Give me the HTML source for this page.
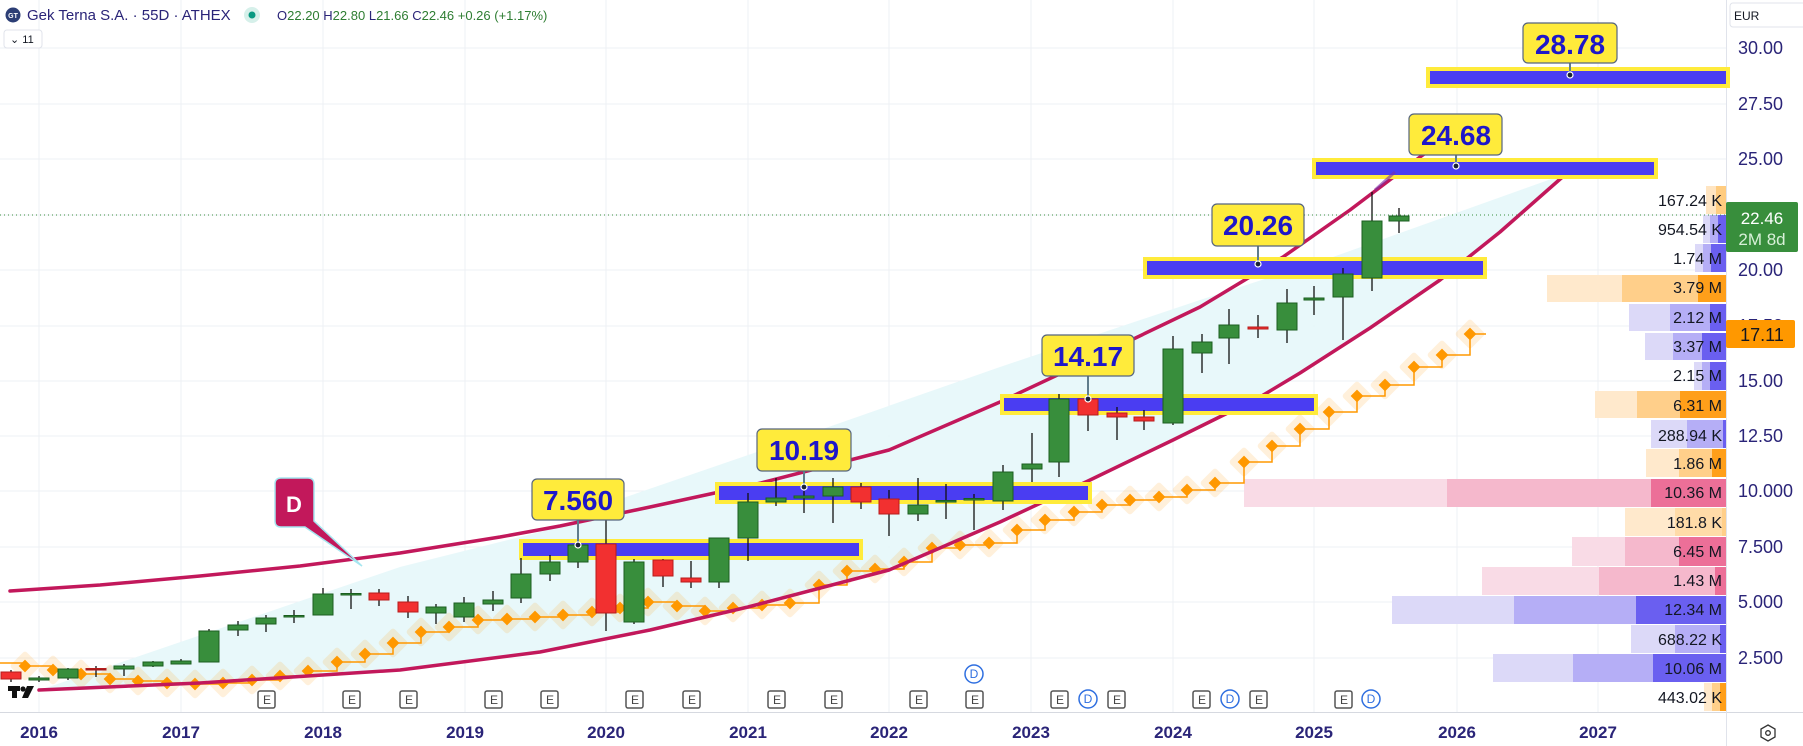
<!DOCTYPE html>
<html><head><meta charset="utf-8"><style>
html,body{margin:0;padding:0;background:#fff;}
svg{display:block;font-family:"Liberation Sans",sans-serif;}
</style></head><body>
<svg width="1803" height="746" viewBox="0 0 1803 746" xmlns="http://www.w3.org/2000/svg">
<rect width="1803" height="746" fill="#fff"/>
<!-- grid -->
<g stroke="#eef0f4" stroke-width="1">
<line x1="0" y1="48" x2="1726" y2="48"/><line x1="0" y1="104" x2="1726" y2="104"/><line x1="0" y1="159" x2="1726" y2="159"/><line x1="0" y1="215" x2="1726" y2="215"/><line x1="0" y1="270" x2="1726" y2="270"/><line x1="0" y1="326" x2="1726" y2="326"/><line x1="0" y1="381" x2="1726" y2="381"/><line x1="0" y1="436" x2="1726" y2="436"/><line x1="0" y1="491" x2="1726" y2="491"/><line x1="0" y1="547" x2="1726" y2="547"/><line x1="0" y1="602" x2="1726" y2="602"/><line x1="0" y1="658" x2="1726" y2="658"/>
<line x1="39" y1="0" x2="39" y2="712"/><line x1="181" y1="0" x2="181" y2="712"/><line x1="323" y1="0" x2="323" y2="712"/><line x1="465" y1="0" x2="465" y2="712"/><line x1="606" y1="0" x2="606" y2="712"/><line x1="748" y1="0" x2="748" y2="712"/><line x1="889" y1="0" x2="889" y2="712"/><line x1="1031" y1="0" x2="1031" y2="712"/><line x1="1173" y1="0" x2="1173" y2="712"/><line x1="1314" y1="0" x2="1314" y2="712"/><line x1="1457" y1="0" x2="1457" y2="712"/><line x1="1598" y1="0" x2="1598" y2="712"/>
</g>
<line x1="0" y1="712.5" x2="1803" y2="712.5" stroke="#d6d9e0"/>
<line x1="1726.5" y1="0" x2="1726.5" y2="746" stroke="#e0e3eb"/>

<!-- volume profile -->
<g>
<rect x="1706" y="186" width="20" height="28" fill="#ffe5c2"/><rect x="1716" y="186" width="10" height="28" fill="#ffcc80"/>
<rect x="1703" y="215" width="23" height="28" fill="#dcd9f8"/><rect x="1710" y="215" width="16" height="28" fill="#b5aef6"/><rect x="1718" y="215" width="8" height="28" fill="#6a5ff0"/>
<rect x="1695" y="244" width="31" height="28" fill="#dcd9f8"/><rect x="1703" y="244" width="23" height="28" fill="#b5aef6"/><rect x="1711" y="244" width="15" height="28" fill="#6a5ff0"/>
<rect x="1547" y="275" width="179" height="27" fill="#ffe9cc"/><rect x="1622" y="275" width="104" height="27" fill="#ffcf8a"/><rect x="1698" y="275" width="28" height="27" fill="#ff9f1a"/>
<rect x="1629" y="304" width="97" height="27" fill="#dcd9f8"/><rect x="1670" y="304" width="56" height="27" fill="#b5aef6"/><rect x="1710" y="304" width="16" height="27" fill="#6a5ff0"/>
<rect x="1645" y="333" width="81" height="27" fill="#dcd9f8"/><rect x="1673" y="333" width="53" height="27" fill="#b5aef6"/><rect x="1702" y="333" width="24" height="27" fill="#6a5ff0"/>
<rect x="1694" y="362" width="32" height="28" fill="#dcd9f8"/><rect x="1702" y="362" width="24" height="28" fill="#b5aef6"/><rect x="1710" y="362" width="16" height="28" fill="#6a5ff0"/>
<rect x="1595" y="391" width="131" height="27" fill="#ffe9cc"/><rect x="1637" y="391" width="89" height="27" fill="#ffcf8a"/><rect x="1680" y="391" width="46" height="27" fill="#ff9f1a"/>
<rect x="1651" y="420" width="75" height="28" fill="#dcd9f8"/><rect x="1687" y="420" width="39" height="28" fill="#b5aef6"/><rect x="1723" y="420" width="3" height="28" fill="#6a5ff0"/>
<rect x="1646" y="449" width="80" height="28" fill="#ffe9cc"/><rect x="1679" y="449" width="47" height="28" fill="#ffcf8a"/><rect x="1712" y="449" width="14" height="28" fill="#ff9f1a"/>
<rect x="1244" y="479" width="482" height="28" fill="#f9dbe6"/><rect x="1447" y="479" width="279" height="28" fill="#f5b8cc"/><rect x="1651" y="479" width="75" height="28" fill="#ec6f98"/>
<rect x="1625" y="508" width="101" height="28" fill="#ffe9cc"/><rect x="1675" y="508" width="51" height="28" fill="#ffdba8"/><rect x="1722" y="508" width="4" height="28" fill="#ffcf8a"/>
<rect x="1572" y="537" width="154" height="29" fill="#f9dbe6"/><rect x="1625" y="537" width="101" height="29" fill="#f5b8cc"/><rect x="1679" y="537" width="47" height="29" fill="#ec6f98"/>
<rect x="1482" y="567" width="244" height="28" fill="#f9dbe6"/><rect x="1599" y="567" width="127" height="28" fill="#f5b8cc"/><rect x="1715" y="567" width="11" height="28" fill="#ec6f98"/>
<rect x="1392" y="596" width="334" height="28" fill="#dcd9f8"/><rect x="1514" y="596" width="212" height="28" fill="#b5aef6"/><rect x="1636" y="596" width="90" height="28" fill="#6a5ff0"/>
<rect x="1631" y="625" width="95" height="28" fill="#dcd9f8"/><rect x="1675" y="625" width="51" height="28" fill="#b5aef6"/><rect x="1720" y="625" width="6" height="28" fill="#6a5ff0"/>
<rect x="1493" y="654" width="233" height="28" fill="#dcd9f8"/><rect x="1573" y="654" width="153" height="28" fill="#b5aef6"/><rect x="1653" y="654" width="73" height="28" fill="#6a5ff0"/>
<rect x="1704" y="683" width="22" height="28" fill="#ffe9cc"/><rect x="1712" y="683" width="14" height="28" fill="#ffcf8a"/><rect x="1720" y="683" width="6" height="28" fill="#ff9f1a"/>
</g>

<!-- cloud -->
<polygon fill="#e6f7f9" opacity="0.9" points="40,690 400,567 560,527 626,497 754,453 1000,367 1200,300 1333,257 1568,173 1500,232 1440,280 1300,372 1260,397 1173,440 1088,480 1000,520 889,570 748,607 650,630 540,652 400,670 200,683 39,690"/>

<!-- orange halos + step line -->
<g fill="#ff9800" fill-opacity="0.13">
<g id="h">
</g>
</g>
<path fill="none" stroke="#ff9800" stroke-width="1.5" d="M-3,663 H25 V666 H53 V670 H81 V674 H110 V679 H138 V681 H167 V683 H195 V684 H223 V683 H252 V680 H280 V676 H308 V671 H337 V662 H365 V654 H393 V643 H421 V632 H449 V627 H478 V620 H507 V619 H535 V617 H563 V615 H592 V612 H620 V608 H648 V602 H677 V606 H705 V611 H733 V608 H762 V605 H790 V603 H819 V585 H847 V571 H875 V569 H904 V562 H932 V548 H960 V545 H989 V543 H1017 V530 H1045 V520 H1074 V512 H1102 V505 H1130 V500 H1159 V497 H1187 V490 H1215 V483 H1244 V462 H1272 V446 H1300 V429 H1329 V412 H1357 V396 H1385 V385 H1414 V367 H1442 V355 H1470 V334 H1486"/>
<g fill="#ff9800">
<g fill-opacity="0.14">
<rect x="-11" y="-11" width="22" height="22" rx="3" transform="translate(25,666) rotate(45)"/><rect x="-11" y="-11" width="22" height="22" rx="3" transform="translate(53,670) rotate(45)"/><rect x="-11" y="-11" width="22" height="22" rx="3" transform="translate(81,674) rotate(45)"/><rect x="-11" y="-11" width="22" height="22" rx="3" transform="translate(110,679) rotate(45)"/><rect x="-11" y="-11" width="22" height="22" rx="3" transform="translate(138,681) rotate(45)"/><rect x="-11" y="-11" width="22" height="22" rx="3" transform="translate(167,683) rotate(45)"/><rect x="-11" y="-11" width="22" height="22" rx="3" transform="translate(195,684) rotate(45)"/><rect x="-11" y="-11" width="22" height="22" rx="3" transform="translate(223,683) rotate(45)"/><rect x="-11" y="-11" width="22" height="22" rx="3" transform="translate(252,680) rotate(45)"/><rect x="-11" y="-11" width="22" height="22" rx="3" transform="translate(280,676) rotate(45)"/><rect x="-11" y="-11" width="22" height="22" rx="3" transform="translate(308,671) rotate(45)"/><rect x="-11" y="-11" width="22" height="22" rx="3" transform="translate(337,662) rotate(45)"/><rect x="-11" y="-11" width="22" height="22" rx="3" transform="translate(365,654) rotate(45)"/><rect x="-11" y="-11" width="22" height="22" rx="3" transform="translate(393,643) rotate(45)"/><rect x="-11" y="-11" width="22" height="22" rx="3" transform="translate(421,632) rotate(45)"/><rect x="-11" y="-11" width="22" height="22" rx="3" transform="translate(449,627) rotate(45)"/><rect x="-11" y="-11" width="22" height="22" rx="3" transform="translate(478,620) rotate(45)"/><rect x="-11" y="-11" width="22" height="22" rx="3" transform="translate(507,619) rotate(45)"/><rect x="-11" y="-11" width="22" height="22" rx="3" transform="translate(535,617) rotate(45)"/><rect x="-11" y="-11" width="22" height="22" rx="3" transform="translate(563,615) rotate(45)"/><rect x="-11" y="-11" width="22" height="22" rx="3" transform="translate(592,612) rotate(45)"/><rect x="-11" y="-11" width="22" height="22" rx="3" transform="translate(620,608) rotate(45)"/><rect x="-11" y="-11" width="22" height="22" rx="3" transform="translate(648,602) rotate(45)"/><rect x="-11" y="-11" width="22" height="22" rx="3" transform="translate(677,606) rotate(45)"/><rect x="-11" y="-11" width="22" height="22" rx="3" transform="translate(705,611) rotate(45)"/><rect x="-11" y="-11" width="22" height="22" rx="3" transform="translate(733,608) rotate(45)"/><rect x="-11" y="-11" width="22" height="22" rx="3" transform="translate(762,605) rotate(45)"/><rect x="-11" y="-11" width="22" height="22" rx="3" transform="translate(790,603) rotate(45)"/><rect x="-11" y="-11" width="22" height="22" rx="3" transform="translate(819,585) rotate(45)"/><rect x="-11" y="-11" width="22" height="22" rx="3" transform="translate(847,571) rotate(45)"/><rect x="-11" y="-11" width="22" height="22" rx="3" transform="translate(875,569) rotate(45)"/><rect x="-11" y="-11" width="22" height="22" rx="3" transform="translate(904,562) rotate(45)"/><rect x="-11" y="-11" width="22" height="22" rx="3" transform="translate(932,548) rotate(45)"/><rect x="-11" y="-11" width="22" height="22" rx="3" transform="translate(960,545) rotate(45)"/><rect x="-11" y="-11" width="22" height="22" rx="3" transform="translate(989,543) rotate(45)"/><rect x="-11" y="-11" width="22" height="22" rx="3" transform="translate(1017,530) rotate(45)"/><rect x="-11" y="-11" width="22" height="22" rx="3" transform="translate(1045,520) rotate(45)"/><rect x="-11" y="-11" width="22" height="22" rx="3" transform="translate(1074,512) rotate(45)"/><rect x="-11" y="-11" width="22" height="22" rx="3" transform="translate(1102,505) rotate(45)"/><rect x="-11" y="-11" width="22" height="22" rx="3" transform="translate(1130,500) rotate(45)"/><rect x="-11" y="-11" width="22" height="22" rx="3" transform="translate(1159,497) rotate(45)"/><rect x="-11" y="-11" width="22" height="22" rx="3" transform="translate(1187,490) rotate(45)"/><rect x="-11" y="-11" width="22" height="22" rx="3" transform="translate(1215,483) rotate(45)"/><rect x="-11" y="-11" width="22" height="22" rx="3" transform="translate(1244,462) rotate(45)"/><rect x="-11" y="-11" width="22" height="22" rx="3" transform="translate(1272,446) rotate(45)"/><rect x="-11" y="-11" width="22" height="22" rx="3" transform="translate(1300,429) rotate(45)"/><rect x="-11" y="-11" width="22" height="22" rx="3" transform="translate(1329,412) rotate(45)"/><rect x="-11" y="-11" width="22" height="22" rx="3" transform="translate(1357,396) rotate(45)"/><rect x="-11" y="-11" width="22" height="22" rx="3" transform="translate(1385,385) rotate(45)"/><rect x="-11" y="-11" width="22" height="22" rx="3" transform="translate(1414,367) rotate(45)"/><rect x="-11" y="-11" width="22" height="22" rx="3" transform="translate(1442,355) rotate(45)"/><rect x="-11" y="-11" width="22" height="22" rx="3" transform="translate(1470,334) rotate(45)"/>
</g>
<rect x="-4.5" y="-4.5" width="9" height="9" transform="translate(25,666) rotate(45)"/><rect x="-4.5" y="-4.5" width="9" height="9" transform="translate(53,670) rotate(45)"/><rect x="-4.5" y="-4.5" width="9" height="9" transform="translate(81,674) rotate(45)"/><rect x="-4.5" y="-4.5" width="9" height="9" transform="translate(110,679) rotate(45)"/><rect x="-4.5" y="-4.5" width="9" height="9" transform="translate(138,681) rotate(45)"/><rect x="-4.5" y="-4.5" width="9" height="9" transform="translate(167,683) rotate(45)"/><rect x="-4.5" y="-4.5" width="9" height="9" transform="translate(195,684) rotate(45)"/><rect x="-4.5" y="-4.5" width="9" height="9" transform="translate(223,683) rotate(45)"/><rect x="-4.5" y="-4.5" width="9" height="9" transform="translate(252,680) rotate(45)"/><rect x="-4.5" y="-4.5" width="9" height="9" transform="translate(280,676) rotate(45)"/><rect x="-4.5" y="-4.5" width="9" height="9" transform="translate(308,671) rotate(45)"/><rect x="-4.5" y="-4.5" width="9" height="9" transform="translate(337,662) rotate(45)"/><rect x="-4.5" y="-4.5" width="9" height="9" transform="translate(365,654) rotate(45)"/><rect x="-4.5" y="-4.5" width="9" height="9" transform="translate(393,643) rotate(45)"/><rect x="-4.5" y="-4.5" width="9" height="9" transform="translate(421,632) rotate(45)"/><rect x="-4.5" y="-4.5" width="9" height="9" transform="translate(449,627) rotate(45)"/><rect x="-4.5" y="-4.5" width="9" height="9" transform="translate(478,620) rotate(45)"/><rect x="-4.5" y="-4.5" width="9" height="9" transform="translate(507,619) rotate(45)"/><rect x="-4.5" y="-4.5" width="9" height="9" transform="translate(535,617) rotate(45)"/><rect x="-4.5" y="-4.5" width="9" height="9" transform="translate(563,615) rotate(45)"/><rect x="-4.5" y="-4.5" width="9" height="9" transform="translate(592,612) rotate(45)"/><rect x="-4.5" y="-4.5" width="9" height="9" transform="translate(620,608) rotate(45)"/><rect x="-4.5" y="-4.5" width="9" height="9" transform="translate(648,602) rotate(45)"/><rect x="-4.5" y="-4.5" width="9" height="9" transform="translate(677,606) rotate(45)"/><rect x="-4.5" y="-4.5" width="9" height="9" transform="translate(705,611) rotate(45)"/><rect x="-4.5" y="-4.5" width="9" height="9" transform="translate(733,608) rotate(45)"/><rect x="-4.5" y="-4.5" width="9" height="9" transform="translate(762,605) rotate(45)"/><rect x="-4.5" y="-4.5" width="9" height="9" transform="translate(790,603) rotate(45)"/><rect x="-4.5" y="-4.5" width="9" height="9" transform="translate(819,585) rotate(45)"/><rect x="-4.5" y="-4.5" width="9" height="9" transform="translate(847,571) rotate(45)"/><rect x="-4.5" y="-4.5" width="9" height="9" transform="translate(875,569) rotate(45)"/><rect x="-4.5" y="-4.5" width="9" height="9" transform="translate(904,562) rotate(45)"/><rect x="-4.5" y="-4.5" width="9" height="9" transform="translate(932,548) rotate(45)"/><rect x="-4.5" y="-4.5" width="9" height="9" transform="translate(960,545) rotate(45)"/><rect x="-4.5" y="-4.5" width="9" height="9" transform="translate(989,543) rotate(45)"/><rect x="-4.5" y="-4.5" width="9" height="9" transform="translate(1017,530) rotate(45)"/><rect x="-4.5" y="-4.5" width="9" height="9" transform="translate(1045,520) rotate(45)"/><rect x="-4.5" y="-4.5" width="9" height="9" transform="translate(1074,512) rotate(45)"/><rect x="-4.5" y="-4.5" width="9" height="9" transform="translate(1102,505) rotate(45)"/><rect x="-4.5" y="-4.5" width="9" height="9" transform="translate(1130,500) rotate(45)"/><rect x="-4.5" y="-4.5" width="9" height="9" transform="translate(1159,497) rotate(45)"/><rect x="-4.5" y="-4.5" width="9" height="9" transform="translate(1187,490) rotate(45)"/><rect x="-4.5" y="-4.5" width="9" height="9" transform="translate(1215,483) rotate(45)"/><rect x="-4.5" y="-4.5" width="9" height="9" transform="translate(1244,462) rotate(45)"/><rect x="-4.5" y="-4.5" width="9" height="9" transform="translate(1272,446) rotate(45)"/><rect x="-4.5" y="-4.5" width="9" height="9" transform="translate(1300,429) rotate(45)"/><rect x="-4.5" y="-4.5" width="9" height="9" transform="translate(1329,412) rotate(45)"/><rect x="-4.5" y="-4.5" width="9" height="9" transform="translate(1357,396) rotate(45)"/><rect x="-4.5" y="-4.5" width="9" height="9" transform="translate(1385,385) rotate(45)"/><rect x="-4.5" y="-4.5" width="9" height="9" transform="translate(1414,367) rotate(45)"/><rect x="-4.5" y="-4.5" width="9" height="9" transform="translate(1442,355) rotate(45)"/><rect x="-4.5" y="-4.5" width="9" height="9" transform="translate(1470,334) rotate(45)"/>
</g>

<!-- curves -->
<polyline fill="none" stroke="#c2185b" stroke-width="3.5" stroke-linecap="round" stroke-linejoin="round" points="10,591 100,585 200,576 300,566 400,553 500,537 560,526 650,507 761,483 889,450 1000,402 1100,355 1200,307 1283,257 1350,210 1420,157 1430,150"/>
<polyline fill="none" stroke="#c2185b" stroke-width="3.5" stroke-linecap="round" stroke-linejoin="round" points="39,690 200,683 400,670 540,652 650,630 748,607 889,570 1000,522 1088,481 1173,440 1260,397 1300,373 1370,328 1440,280 1500,232 1567,173"/>

<!-- bands -->
<g>
<rect x="521" y="541" width="340" height="17" fill="#4a3df2" stroke="#ffeb3b" stroke-width="4"/>
<rect x="717" y="484" width="373" height="18" fill="#4a3df2" stroke="#ffeb3b" stroke-width="4"/>
<rect x="1002" y="396" width="314" height="17" fill="#4a3df2" stroke="#ffeb3b" stroke-width="4"/>
<rect x="1145" y="259" width="340" height="18" fill="#4a3df2" stroke="#ffeb3b" stroke-width="4"/>
<rect x="1314" y="160" width="342" height="17" fill="#4a3df2" stroke="#ffeb3b" stroke-width="4"/>
<rect x="1428" y="69" width="300" height="17" fill="#4a3df2" stroke="#ffeb3b" stroke-width="4"/>
</g>
<!-- upper curve faint over bands -->
<g stroke="#7a2fa8" stroke-width="3" opacity="0.6">
<line x1="1375" y1="190" x2="1395" y2="172"/>
</g>

<!-- candles -->
<g stroke="#111" stroke-width="1.3">
<line x1="11" y1="670" x2="11" y2="682"/><line x1="39" y1="676" x2="39" y2="682"/><line x1="68" y1="668" x2="68" y2="680"/><line x1="96" y1="666" x2="96" y2="677"/><line x1="124" y1="664" x2="124" y2="676"/><line x1="153" y1="661" x2="153" y2="667"/><line x1="181" y1="659" x2="181" y2="664"/><line x1="209" y1="629" x2="209" y2="662"/><line x1="238" y1="621" x2="238" y2="636"/><line x1="266" y1="615" x2="266" y2="632"/><line x1="294" y1="610" x2="294" y2="623"/><line x1="323" y1="588" x2="323" y2="615"/><line x1="351" y1="589" x2="351" y2="609"/><line x1="379" y1="589" x2="379" y2="606"/><line x1="408" y1="596" x2="408" y2="618"/><line x1="436" y1="604" x2="436" y2="624"/><line x1="464" y1="597" x2="464" y2="622"/><line x1="493" y1="591" x2="493" y2="611"/><line x1="521" y1="558" x2="521" y2="603"/><line x1="550" y1="555" x2="550" y2="581"/><line x1="578" y1="542" x2="578" y2="568"/><line x1="606" y1="515" x2="606" y2="631"/><line x1="634" y1="559" x2="634" y2="624"/><line x1="663" y1="559" x2="663" y2="587"/><line x1="691" y1="561" x2="691" y2="588"/><line x1="719" y1="538" x2="719" y2="588"/><line x1="748" y1="493" x2="748" y2="561"/><line x1="776" y1="478" x2="776" y2="506"/><line x1="804" y1="491" x2="804" y2="513"/><line x1="833" y1="478" x2="833" y2="523"/><line x1="861" y1="483" x2="861" y2="509"/><line x1="889" y1="490" x2="889" y2="536"/><line x1="918" y1="478" x2="918" y2="521"/><line x1="946" y1="484" x2="946" y2="519"/><line x1="974" y1="494" x2="974" y2="530"/><line x1="1003" y1="465" x2="1003" y2="510"/><line x1="1032" y1="433" x2="1032" y2="482"/><line x1="1059" y1="394" x2="1059" y2="477"/><line x1="1088" y1="383" x2="1088" y2="431"/><line x1="1117" y1="407" x2="1117" y2="440"/><line x1="1144" y1="410" x2="1144" y2="430"/><line x1="1173" y1="336" x2="1173" y2="425"/><line x1="1202" y1="334" x2="1202" y2="373"/><line x1="1229" y1="309" x2="1229" y2="364"/><line x1="1258" y1="315" x2="1258" y2="338"/><line x1="1287" y1="289" x2="1287" y2="343"/><line x1="1314" y1="286" x2="1314" y2="315"/><line x1="1343" y1="268" x2="1343" y2="340"/><line x1="1372" y1="192" x2="1372" y2="291"/><line x1="1399" y1="208" x2="1399" y2="233"/>
</g>
<g fill="#388e3c" stroke="#1b5e20" stroke-width="1">
<rect x="29" y="678" width="20" height="2"/><rect x="58" y="669" width="20" height="9"/><rect x="114" y="666" width="20" height="3"/><rect x="143" y="662" width="20" height="4"/><rect x="171" y="661" width="20" height="3"/><rect x="199" y="631" width="20" height="31"/><rect x="228" y="625" width="20" height="5"/><rect x="256" y="618" width="20" height="6"/><rect x="284" y="615.5" width="20" height="1.5"/><rect x="313" y="594" width="20" height="21"/><rect x="341" y="593.5" width="20" height="1.5"/><rect x="426" y="607" width="20" height="6"/><rect x="454" y="603" width="20" height="14"/><rect x="483" y="600" width="20" height="4"/><rect x="511" y="574" width="20" height="24"/><rect x="540" y="562" width="20" height="12"/><rect x="568" y="545" width="20" height="17"/><rect x="624" y="562" width="20" height="60"/><rect x="709" y="538" width="20" height="44"/><rect x="738" y="502" width="20" height="36"/><rect x="766" y="498" width="20" height="4"/><rect x="794" y="496" width="20" height="2"/><rect x="823" y="487" width="20" height="9"/><rect x="908" y="505" width="20" height="9"/><rect x="936" y="500.5" width="20" height="1.5"/><rect x="964" y="498.5" width="20" height="1.5"/><rect x="993" y="472" width="20" height="29"/><rect x="1022" y="464" width="20" height="5"/><rect x="1049" y="399" width="20" height="63"/><rect x="1163" y="349" width="20" height="74"/><rect x="1192" y="342" width="20" height="11"/><rect x="1219" y="325" width="20" height="13"/><rect x="1277" y="303" width="20" height="27"/><rect x="1304" y="298" width="20" height="2"/><rect x="1333" y="274" width="20" height="23"/><rect x="1362" y="221" width="20" height="57"/><rect x="1389" y="216" width="20" height="5"/>
</g>
<g fill="#f23030" stroke="#b71c1c" stroke-width="1">
<rect x="1" y="672" width="20" height="7"/><rect x="86" y="668.5" width="20" height="1.5" fill="#8b1a1a"/><rect x="369" y="593" width="20" height="7"/><rect x="398" y="602" width="20" height="10"/><rect x="596" y="544" width="20" height="69"/><rect x="653" y="560" width="20" height="16"/><rect x="681" y="578" width="20" height="4"/><rect x="851" y="487" width="20" height="15"/><rect x="879" y="499" width="20" height="15"/><rect x="1078" y="399" width="20" height="16"/><rect x="1107" y="413" width="20" height="4"/><rect x="1134" y="417" width="20" height="4"/><rect x="1248" y="327" width="20" height="2"/>
</g>

<!-- current price line -->
<line x1="0" y1="215" x2="1726" y2="215" stroke="#388e3c" stroke-width="1" stroke-dasharray="1,3"/>

<!-- labels -->
<g font-family="Liberation Sans, sans-serif" font-weight="bold" font-size="28" fill="#1e17c9" text-anchor="middle">
<line x1="578" y1="520" x2="578" y2="545" stroke="#607d8b" stroke-width="2"/>
<rect x="532" y="479" width="92" height="41" rx="5" fill="#ffeb3b" stroke="#56657f" stroke-width="1.2"/><text x="578" y="510">7.560</text>
<line x1="804" y1="471" x2="804" y2="487" stroke="#607d8b" stroke-width="2"/>
<rect x="757" y="429" width="94" height="42" rx="5" fill="#ffeb3b" stroke="#56657f" stroke-width="1.2"/><text x="804" y="460">10.19</text>
<line x1="1088" y1="376" x2="1088" y2="399" stroke="#607d8b" stroke-width="2"/>
<rect x="1042" y="335" width="92" height="41" rx="5" fill="#ffeb3b" stroke="#56657f" stroke-width="1.2"/><text x="1088" y="366">14.17</text>
<line x1="1258" y1="246" x2="1258" y2="264" stroke="#607d8b" stroke-width="2"/>
<rect x="1212" y="204" width="92" height="42" rx="5" fill="#ffeb3b" stroke="#56657f" stroke-width="1.2"/><text x="1258" y="235">20.26</text>
<line x1="1456" y1="155" x2="1456" y2="166" stroke="#607d8b" stroke-width="2"/>
<rect x="1409" y="114" width="93" height="41" rx="5" fill="#ffeb3b" stroke="#56657f" stroke-width="1.2"/><text x="1456" y="145">24.68</text>
<line x1="1570" y1="63" x2="1570" y2="75" stroke="#607d8b" stroke-width="2"/>
<rect x="1523" y="23" width="94" height="40" rx="5" fill="#ffeb3b" stroke="#56657f" stroke-width="1.2"/><text x="1570" y="54">28.78</text>
</g>
<g fill="#1a2238" stroke="#fff" stroke-width="1.2">
<circle cx="578" cy="545" r="3"/><circle cx="804" cy="487" r="3"/><circle cx="1088" cy="399" r="3"/><circle cx="1258" cy="264" r="3"/><circle cx="1456" cy="166" r="3"/><circle cx="1570" cy="75" r="3"/>
</g>

<!-- D callout -->
<path d="M281,478 H308 Q314,478 314,484 V521 L362,566 L305,527 H281 Q275,527 275,521 V484 Q275,478 281,478 Z" fill="#c2185b" stroke="#a6e6f0" stroke-width="1.5"/>
<text x="294" y="512" text-anchor="middle" font-family="Liberation Sans, sans-serif" font-weight="bold" font-size="22" fill="#fff">D</text>

<!-- E / D markers -->
<g font-family="Liberation Sans, sans-serif" font-size="12" text-anchor="middle">
<g fill="#fff" stroke="#555" stroke-width="1.5">
<rect x="258" y="691" width="17" height="17" rx="2"/><rect x="343" y="691" width="17" height="17" rx="2"/><rect x="400" y="691" width="17" height="17" rx="2"/><rect x="485" y="691" width="17" height="17" rx="2"/><rect x="541" y="691" width="17" height="17" rx="2"/><rect x="626" y="691" width="17" height="17" rx="2"/><rect x="683" y="691" width="17" height="17" rx="2"/><rect x="768" y="691" width="17" height="17" rx="2"/><rect x="825" y="691" width="17" height="17" rx="2"/><rect x="910" y="691" width="17" height="17" rx="2"/><rect x="966" y="691" width="17" height="17" rx="2"/><rect x="1051" y="691" width="17" height="17" rx="2"/><rect x="1108" y="691" width="17" height="17" rx="2"/><rect x="1193" y="691" width="17" height="17" rx="2"/><rect x="1250" y="691" width="17" height="17" rx="2"/><rect x="1335" y="691" width="17" height="17" rx="2"/>
</g>
<g fill="#444">
<text x="267" y="704">E</text><text x="352" y="704">E</text><text x="409" y="704">E</text><text x="494" y="704">E</text><text x="550" y="704">E</text><text x="635" y="704">E</text><text x="692" y="704">E</text><text x="777" y="704">E</text><text x="834" y="704">E</text><text x="919" y="704">E</text><text x="975" y="704">E</text><text x="1060" y="704">E</text><text x="1117" y="704">E</text><text x="1202" y="704">E</text><text x="1259" y="704">E</text><text x="1344" y="704">E</text>
</g>
<g fill="#fff" stroke="#2f6fe0" stroke-width="1.5">
<circle cx="974" cy="674" r="9"/><circle cx="1088" cy="699" r="9"/><circle cx="1230" cy="699" r="9"/><circle cx="1371" cy="699" r="9"/>
</g>
<g fill="#2f6fe0"><text x="974" y="678">D</text><text x="1088" y="703">D</text><text x="1230" y="703">D</text><text x="1371" y="703">D</text></g>
</g>

<!-- TV logo -->
<g fill="#111"><rect x="8" y="686" width="12" height="5"/><rect x="12" y="686" width="5" height="12"/><circle cx="23" cy="689" r="2.6"/><polygon points="27,686 34,686 28,698 22,698"/></g>

<!-- volume labels -->
<g font-family="Liberation Sans, sans-serif" font-size="16" fill="#131722" text-anchor="end">
<text x="1722" y="206">167.24 K</text><text x="1722" y="235">954.54 K</text><text x="1722" y="264">1.74 M</text><text x="1722" y="293">3.79 M</text><text x="1722" y="323">2.12 M</text><text x="1722" y="352">3.37 M</text><text x="1722" y="381">2.15 M</text><text x="1722" y="411">6.31 M</text><text x="1722" y="441">288.94 K</text><text x="1722" y="469">1.86 M</text><text x="1722" y="498">10.36 M</text><text x="1722" y="528">181.8 K</text><text x="1722" y="557">6.45 M</text><text x="1722" y="586">1.43 M</text><text x="1722" y="615">12.34 M</text><text x="1722" y="645">688.22 K</text><text x="1722" y="674">10.06 M</text><text x="1722" y="703">443.02 K</text>
</g>

<!-- right axis -->
<g font-family="Liberation Sans, sans-serif" font-size="18" fill="#2a2478">
<text x="1738" y="54">30.00</text><text x="1738" y="110">27.50</text><text x="1738" y="165">25.00</text><text x="1738" y="276">20.00</text><text x="1738" y="332">17.50</text><text x="1738" y="387">15.00</text><text x="1738" y="442">12.50</text><text x="1738" y="497">10.000</text><text x="1738" y="553">7.500</text><text x="1738" y="608">5.000</text><text x="1738" y="664">2.500</text>
</g>
<rect x="1730" y="3" width="76" height="24" rx="3" fill="#fff" stroke="#e0e3eb"/>
<text x="1734" y="20" font-family="Liberation Sans, sans-serif" font-size="12" fill="#131722">EUR</text>
<rect x="1726" y="202" width="72" height="50" rx="2" fill="#388e3c"/>
<text x="1762" y="224" text-anchor="middle" font-family="Liberation Sans, sans-serif" font-size="17" fill="#fff">22.46</text>
<text x="1762" y="245" text-anchor="middle" font-family="Liberation Sans, sans-serif" font-size="17" fill="#d8f0d8">2M 8d</text>
<rect x="1726" y="320" width="69" height="28" rx="2" fill="#ff9800"/>
<text x="1762" y="341" text-anchor="middle" font-family="Liberation Sans, sans-serif" font-size="18" fill="#131722">17.11</text>

<!-- bottom axis -->
<g font-family="Liberation Sans, sans-serif" font-weight="bold" font-size="17" fill="#2a2478" text-anchor="middle">
<text x="39" y="738">2016</text><text x="181" y="738">2017</text><text x="323" y="738">2018</text><text x="465" y="738">2019</text><text x="606" y="738">2020</text><text x="748" y="738">2021</text><text x="889" y="738">2022</text><text x="1031" y="738">2023</text><text x="1173" y="738">2024</text><text x="1314" y="738">2025</text><text x="1457" y="738">2026</text><text x="1598" y="738">2027</text>
</g>
<polygon points="1768,725 1775,729 1775,737 1768,741 1761,737 1761,729" fill="none" stroke="#333" stroke-width="1.3"/>
<circle cx="1768" cy="733" r="2.3" fill="none" stroke="#333" stroke-width="1.3"/>

<!-- header -->
<circle cx="13" cy="15" r="7.5" fill="#2c3e75"/>
<text x="13" y="18" text-anchor="middle" font-family="Liberation Sans, sans-serif" font-size="7" font-weight="bold" fill="#fff">GT</text>
<text x="27" y="20" font-family="Liberation Sans, sans-serif" font-size="15" fill="#2a2478">Gek Terna S.A. · 55D · ATHEX</text>
<circle cx="252" cy="15" r="8" fill="#d6f0ea"/><circle cx="252" cy="15" r="3.5" fill="#089981"/>
<text x="277" y="20" font-family="Liberation Sans, sans-serif" font-size="13" fill="#2e7d32"><tspan fill="#2a2478">O</tspan>22.20 <tspan fill="#2a2478">H</tspan>22.80 <tspan fill="#2a2478">L</tspan>21.66 <tspan fill="#2a2478">C</tspan>22.46 +0.26 (+1.17%)</text>
<rect x="4" y="30" width="38" height="18" rx="3" fill="#fff" stroke="#e0e3eb"/>
<text x="10" y="43" font-family="Liberation Sans, sans-serif" font-size="11" fill="#131722">⌄ 11</text>
</svg>
</body></html>
